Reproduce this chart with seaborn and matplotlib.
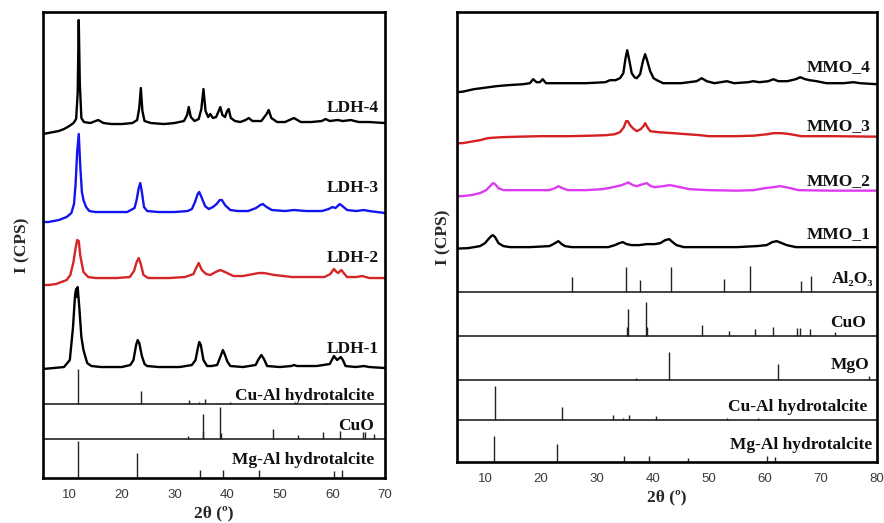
import matplotlib
matplotlib.use("Agg")
import matplotlib.pyplot as plt
from matplotlib.ticker import MultipleLocator
import seaborn as sns

# XRD patterns: (2theta, counts above the pattern baseline)
LDH4 = [(5.0, -11), (6, -10), (7, -9), (8, -8), (9, -6), (10, -3), (10.8, 0), (11.3, 4),
        (11.6, 30), (11.8, 103), (12.0, 40), (12.3, 5), (12.8, 1), (14, 0), (15.5, 3),
        (16.5, 0), (18, -1), (20, -1), (22, 0), (22.9, 3), (23.3, 15), (23.6, 35),
        (23.9, 12), (24.3, 2), (25.5, 0), (28, -1), (30, 0), (31.8, 2), (32.4, 8),
        (32.7, 16), (33.1, 6), (33.8, 2), (34.6, 4), (35.1, 14), (35.5, 34), (35.9, 12),
        (36.4, 6), (36.8, 9), (37.3, 5), (37.9, 6), (38.4, 12), (38.7, 16), (39.1, 8),
        (39.6, 6), (40.0, 12), (40.3, 14), (40.7, 5), (41.5, 2), (42.5, 1), (43.5, 3),
        (44.1, 5), (44.8, 2), (46.5, 2), (47.5, 9), (47.9, 13), (48.4, 5), (49.5, 1),
        (51, 1), (52.7, 5), (54, 1), (56, 1), (58, 2), (58.7, 4), (59.5, 2), (61, 3),
        (62, 2), (63.5, 3), (65, 1), (67, 1), (70, 0)]
LDH3 = [(5.0, -10), (6, -10), (7, -9), (8, -8), (9.5, -5), (10.4, -1), (10.9, 8),
        (11.2, 28), (11.5, 60), (11.8, 78), (12.1, 45), (12.4, 20), (12.7, 12), (13.2, 5),
        (13.8, 1), (15, 0), (18, 0), (21, 0), (22.4, 4), (22.8, 12), (23.2, 24), (23.5, 29),
        (23.8, 20), (24.2, 5), (24.8, 1), (27, 0), (30, 0), (32.5, 1), (33.3, 3), (33.9, 10),
        (34.4, 18), (34.7, 20), (35.2, 14), (35.8, 6), (36.5, 3), (37.3, 5), (38.0, 8),
        (38.6, 12), (39.0, 12), (39.6, 7), (40.6, 2), (42, 1), (44, 1), (45.5, 4), (46.3, 7),
        (46.8, 8), (47.5, 5), (48.5, 2), (51, 1), (52.7, 2), (55, 1), (58, 1), (59.3, 3),
        (60.0, 5), (60.6, 4), (61.4, 8), (61.9, 6), (62.8, 2), (64.5, 1), (66, 2), (67, 1),
        (70, -1)]
LDH2 = [(5.0, -7), (6, -7), (7.5, -6), (8.5, -4), (9.5, -2), (10.2, 3), (10.8, 16),
        (11.2, 30), (11.5, 38), (11.8, 37), (12.1, 22), (12.7, 6), (13.6, 1), (15, 0),
        (19, 0), (21.5, 1), (22.3, 7), (22.8, 16), (23.2, 20), (23.6, 14), (24.1, 3),
        (25, 0), (29, 0), (32, 1), (33.6, 4), (34.2, 11), (34.6, 15), (35.2, 8), (36.0, 4),
        (36.8, 3), (37.8, 6), (38.7, 8), (39.6, 6), (41.2, 2), (43, 2), (45, 4), (46, 5),
        (47, 5), (49, 3), (52.4, 1), (56, 1), (58.5, 1), (59.6, 4), (60.3, 9), (60.8, 6),
        (61.1, 5), (61.7, 8), (62.3, 4), (62.8, 1), (64.5, 1), (65.7, 2), (67, 0), (70, 0)]
LDH1 = [(5.0, -2), (7, -1), (9, 0), (10.1, 7), (10.7, 39), (11.1, 72), (11.3, 78),
        (11.45, 70), (11.6, 80), (11.9, 60), (12.3, 30), (12.7, 17), (13.4, 4), (14.2, 1),
        (16, 0), (20, 0), (21.6, 2), (22.2, 7), (22.7, 22), (23.0, 27), (23.3, 24),
        (23.8, 11), (24.3, 3), (24.8, 1), (27, 0), (31, 0), (33.3, 2), (34.0, 7), (34.4, 18),
        (34.7, 25), (35.0, 22), (35.5, 7), (36.2, 1), (37, 1), (38.1, 2), (38.7, 10),
        (39.2, 17), (39.6, 12), (40.0, 6), (40.6, 1), (43, 0), (45.4, 2), (46.0, 8),
        (46.5, 12), (47.0, 8), (47.6, 1), (50, 0), (52.2, 1), (52.7, 2), (53.3, 1), (57, 1),
        (59.5, 3), (60.0, 8), (60.3, 11), (60.9, 7), (61.6, 10), (62.0, 7), (62.5, 1),
        (64.4, 0), (66, 1), (67, 0), (70, -1)]

MMO4 = [(5.0, -9), (6, -8.5), (8, -6), (10, -4.5), (12, -3), (14, -2), (16.8, -1), (18.0, 0),
        (18.6, 4), (19.2, 1), (19.8, 1), (20.3, 4), (20.9, 0), (24, 0), (28, 0), (31.5, 1),
        (32.3, 3), (33.3, 3), (34.1, 5), (34.7, 10), (35.1, 25), (35.4, 33), (35.8, 22),
        (36.2, 10), (36.7, 6), (37.1, 5), (37.7, 9), (38.2, 22), (38.6, 29), (39.0, 22),
        (39.5, 12), (40.1, 5), (40.7, 3), (41.8, 0), (45, 0), (47.8, 2), (48.7, 5),
        (49.6, 2), (51, 0), (53.2, 2), (54.5, 0), (57, 1), (57.9, 2), (59, 1), (60.6, 2),
        (61.5, 4), (62.4, 2), (64, 2), (65.5, 4), (66.3, 6), (67.2, 4), (68.0, 3), (69.2, 2),
        (71.0, 0), (74, 0), (75.8, 1), (77, 0), (80, -1)]
MMO3 = [(5.0, -7), (6, -7), (7.5, -5.5), (9.1, -4), (10.5, -2), (11.5, -1.5), (13, -1),
        (16, -0.5), (20, 0), (25, 0), (29, 0.5), (31.7, 1), (33.2, 2), (34.1, 4), (34.8, 9),
        (35.2, 15), (35.5, 15), (35.9, 11), (36.4, 8), (37.1, 5), (37.8, 7), (38.3, 10),
        (38.6, 13), (39.0, 9), (39.5, 5), (41, 4), (43.6, 3), (46, 2), (48.4, 1), (50, 0),
        (55, 0), (58, 0.5), (60.5, 2), (61.5, 3), (63, 3), (64.5, 2), (66.5, 0), (72, 0),
        (80, -0.5)]
MMO2 = [(5.0, -6), (6, -6), (7.5, -5), (9.1, -3), (10.2, 0), (10.9, 4), (11.4, 7),
        (11.8, 6), (12.4, 2), (13.3, 0), (17, 0), (21.5, 0), (22.5, 2), (23.1, 4), (23.8, 2),
        (24.8, 0), (28, 0), (31, 1), (32.9, 3), (34.4, 5), (35.6, 7.7), (36.4, 5), (37.1, 4),
        (38.2, 6), (38.9, 7), (39.6, 4), (40.4, 3), (41.8, 4), (43.0, 5), (44.0, 4),
        (44.8, 3), (46.5, 1), (50, 0), (55, -0.5), (58, 0), (60, 2), (61.5, 3), (62.7, 4),
        (63.7, 3), (64.5, 2), (66, 0), (72, -0.5), (80, -0.5)]
MMO1 = [(5.0, -1.5), (7, -1), (9.1, 1), (10.0, 4), (10.6, 8), (11.1, 11), (11.4, 12),
        (11.8, 10), (12.4, 4), (13.3, 1), (14.5, 0), (18, 0), (21.5, 1), (22.2, 3), (23.1, 6),
        (23.7, 3), (24.3, 1), (25.5, 0), (29, 0), (32, 0), (33.2, 2), (34.0, 4), (34.6, 5),
        (35.3, 3), (36.2, 2), (37.5, 2), (38.9, 3), (40.3, 3), (41.3, 4), (42.2, 7),
        (42.9, 8), (43.5, 5), (44.2, 2), (45.5, 0), (50, 0), (55, 0), (58.5, 1), (60.3, 2),
        (61.3, 5), (62.1, 6), (63.0, 4), (63.9, 2), (65.5, 0), (72, 0), (80, 0)]

# reference cards: (2theta, relative intensity)
CUAL_CARD_L = [(11.7, 35), (23.7, 13), (32.8, 4), (34.6, 2), (35.7, 5), (40.5, 2.5), (58.7, 1.5)]
CUO_CARD_L = [(32.5, 2.7), (35.4, 8), (35.5, 25), (38.7, 32), (38.9, 6), (48.7, 10),
              (53.5, 4), (58.3, 7), (61.5, 8.5), (65.8, 7), (66.2, 7), (68.0, 5)]
MGAL_CARD_L = [(11.6, 37), (22.9, 25), (34.8, 8), (39.2, 8), (46.0, 8), (60.4, 7), (61.8, 8)]

AL2O3_CARD = [(25.6, 15), (35.1, 25), (37.7, 12), (43.3, 25), (52.6, 13), (57.4, 26),
              (66.5, 11), (68.2, 16)]
CUO_CARD_R = [(35.3, 9), (35.5, 27), (38.7, 34), (38.9, 9), (48.8, 11), (53.5, 5), (58.3, 7),
              (61.5, 9), (65.8, 8), (66.2, 8), (68.0, 7), (72.5, 4)]
MGO_CARD = [(36.9, 2.3), (42.9, 28), (62.3, 16), (78.6, 4)]
CUAL_CARD_R = [(11.8, 34), (23.7, 13), (32.8, 5), (34.7, 2), (35.7, 5), (40.5, 4),
               (53.3, 1.7), (58.8, 1.7)]
MGAL_CARD_R = [(11.6, 26), (22.9, 18), (34.8, 6), (39.2, 6), (46.2, 4), (60.3, 6), (61.8, 5)]

LEFT_LABELS = ["LDH-4", "LDH-3", "LDH-2", "LDH-1",
               "Cu-Al hydrotalcite", "CuO", "Mg-Al hydrotalcite"]
RIGHT_LABELS = ["MMO_4", "MMO_3", "MMO_2", "MMO_1", "Al\u2082O\u2083", "CuO", "MgO",
                "Cu-Al hydrotalcite", "Mg-Al hydrotalcite"]
LEFT_TICKS = [10, 20, 30, 40, 50, 60, 70]
RIGHT_TICKS = [10, 20, 30, 40, 50, 60, 70, 80]

SERIF = ["Liberation Serif", "DejaVu Serif"]


def draw_curve(ax, pts, base, color):
    xs = [p[0] for p in pts]
    ys = [p[1] + base for p in pts]
    sns.lineplot(x=xs, y=ys, ax=ax, color=color, lw=1.7, estimator=None, sort=False)


def draw_card(ax, pts, base, sep=True):
    xs = [p[0] for p in pts]
    ax.vlines(xs, base, [p[1] + base for p in pts], color="#222222", lw=1.0)
    if sep:
        ax.axhline(base, color="#222222", lw=1.2)


def label(ax, x, y, s):
    ax.text(x, y, s, ha="right", va="center", fontsize=12.5, fontweight="bold",
            family=SERIF, color="#111111")


def style_axes(ax, xmax, ticks, ymax, labelpad):
    ax.set_xlim(5, xmax)
    ax.set_ylim(0, ymax)
    ax.set_xticks(ticks)
    ax.xaxis.set_minor_locator(MultipleLocator(5))
    ax.set_yticks([])
    ax.tick_params(axis="x", which="both", direction="out", length=4, width=1.0,
                   labelsize=9.5, labelcolor="#3a3a3a", pad=4)
    for t in ax.get_xticklabels():
        t.set_family(["Liberation Sans", "DejaVu Sans"])
    for sp in ax.spines.values():
        sp.set_visible(True)
        sp.set_linewidth(1.9)
        sp.set_color("black")
    ax.set_xlabel("2\u03b8 (\u00ba)", fontsize=12.5, fontweight="bold", family=SERIF,
                  labelpad=3)
    ax.set_ylabel("I (CPS)", fontsize=12.5, fontweight="bold", family=SERIF,
                  labelpad=labelpad)


sns.set_style("white")
plt.rcParams["font.family"] = ["Liberation Serif", "DejaVu Serif"]

fig = plt.figure(figsize=(8.84, 5.23), dpi=100)
ax1 = fig.add_axes([0.0486, 0.086, 0.3869, 0.891])
ax2 = fig.add_axes([0.517, 0.1166, 0.475, 0.860])

# left panel
draw_curve(ax1, LDH4, 355, "black")
draw_curve(ax1, LDH3, 266, "#1414f0")
draw_curve(ax1, LDH2, 200, "#d42626")
draw_curve(ax1, LDH1, 111, "black")
draw_card(ax1, CUAL_CARD_L, 74)
draw_card(ax1, CUO_CARD_L, 39)
draw_card(ax1, MGAL_CARD_L, 0, sep=False)
for y, s in zip([370, 290, 220, 129, 82, 52, 18], LEFT_LABELS):
    label(ax1, 68.9 if s.startswith("LDH") else 68.0, y, s)
style_axes(ax1, 70, LEFT_TICKS, 466, 9)

# right panel
draw_curve(ax2, MMO4, 379, "black")
draw_curve(ax2, MMO3, 326, "#d42020")
draw_curve(ax2, MMO2, 272, "#dc3cf0")
draw_curve(ax2, MMO1, 215, "black")
draw_card(ax2, AL2O3_CARD, 170)
draw_card(ax2, CUO_CARD_R, 126)
draw_card(ax2, MGO_CARD, 82)
draw_card(ax2, CUAL_CARD_R, 42)
draw_card(ax2, MGAL_CARD_R, 0, sep=False)
right_pos = [(78.8, 395), (78.8, 336), (78.8, 281), (78.8, 228), (79.4, 183),
             (78.0, 139), (78.7, 97), (78.3, 55), (79.2, 17)]
for (x, y), s in zip(right_pos, RIGHT_LABELS):
    label(ax2, x, y, s)
style_axes(ax2, 80, RIGHT_TICKS, 450, 4)

fig.savefig("out.png", dpi=100)
